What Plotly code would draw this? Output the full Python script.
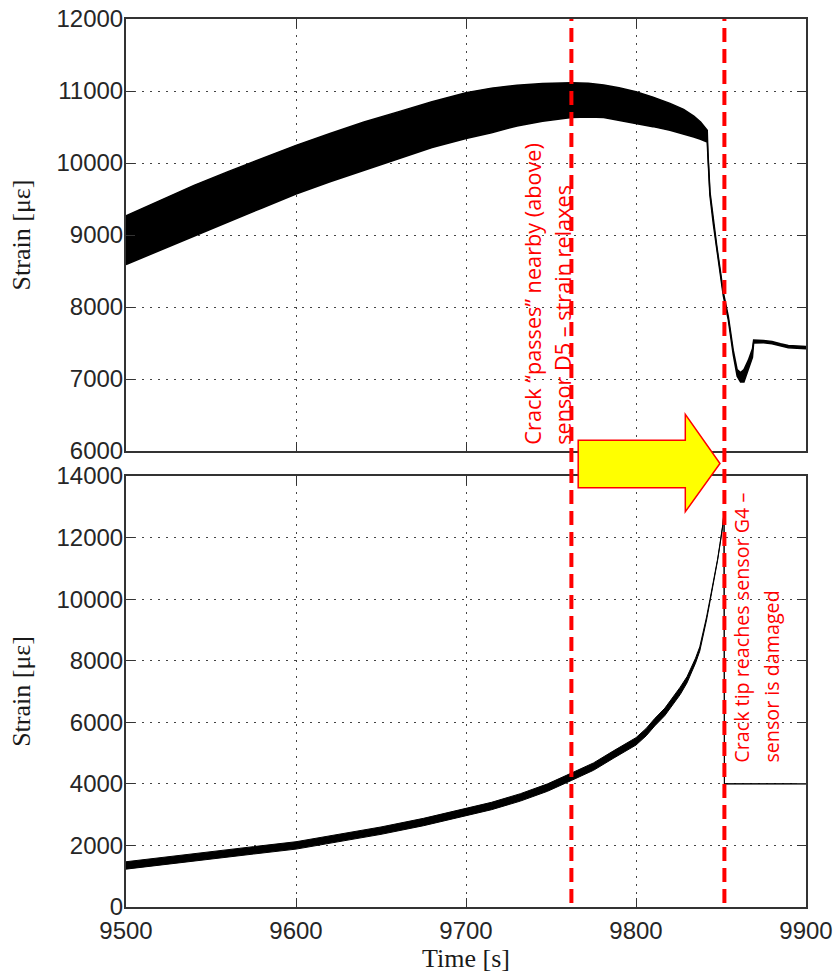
import plotly.graph_objects as go

# ---- Sensor D5 (upper panel): upper / lower envelope of the oscillating strain ----
t_top = [9500, 9520, 9540, 9560, 9580, 9600, 9620, 9640, 9660, 9680, 9700, 9715,
         9730, 9745, 9762, 9772, 9781, 9790, 9800, 9810, 9820, 9828, 9834, 9838,
         9841.9, 9842.3, 9843.5, 9845.5, 9847.5, 9849.5, 9851.4, 9854.3, 9857.2,
         9859.5, 9861.5, 9863.5, 9866.1, 9868.5, 9869.2, 9875, 9880, 9885, 9889.6, 9900]
top_upper = [9266, 9480, 9690, 9880, 10060, 10245, 10410, 10570, 10710, 10850, 10975, 11040,
             11080, 11105, 11116, 11108, 11084, 11045, 10990, 10915, 10828, 10745, 10650, 10570,
             10455, 10150, 9600, 9200, 8850, 8520, 8200, 7870, 7400,
             7130, 7090, 7130, 7262, 7420, 7540, 7535, 7520, 7490, 7465, 7450]
top_lower = [8590, 8790, 8985, 9180, 9375, 9570, 9740, 9900, 10060, 10215, 10340, 10420,
             10515, 10580, 10632, 10640, 10632, 10595, 10548, 10505, 10455, 10405, 10360, 10330,
             10291, 10100, 9550, 9150, 8800, 8470, 8150, 7820, 7340,
             7040, 6960, 6960, 7122, 7300, 7500, 7505, 7490, 7460, 7435, 7420]

# ---- Sensor G4 (lower panel): upper / lower envelope of the strain ----
t_bot = [9500, 9525, 9550, 9575, 9600, 9625, 9650, 9675, 9700, 9715, 9732, 9748, 9762,
         9775, 9787, 9800, 9806, 9811, 9817, 9822, 9826, 9830, 9833, 9835, 9837.5,
         9839.6, 9841.5, 9843.5, 9845, 9846.5, 9848, 9849.4, 9850.3, 9851, 9851.8, 9852, 9900]
bot_upper = [1470, 1640, 1800, 1960, 2120, 2350, 2600, 2880, 3190, 3400, 3680, 4000, 4350,
             4680, 5080, 5500, 5800, 6120, 6460, 6820, 7140, 7480, 7810, 8080, 8450,
             8930, 9420, 9990, 10400, 10850, 11300, 11800, 12120, 12400, 12860, 4000, 4000]
bot_lower = [1230, 1400, 1560, 1720, 1880, 2110, 2360, 2640, 2950, 3160, 3440, 3760, 4110,
             4440, 4840, 5260, 5560, 5880, 6220, 6580, 6900, 7280, 7630, 7920, 8310,
             8810, 9320, 9910, 10340, 10790, 11260, 11760, 12080, 12360, 12820, 4000, 4000]

# ---- axis ticks ----
time_ticks = [9500, 9600, 9700, 9800, 9900]
time_labels = ["9500", "9600", "9700", "9800", "9900"]
top_ticks = [6000, 7000, 8000, 9000, 10000, 11000, 12000]
top_labels = ["6000", "7000", "8000", "9000", "10000", "11000", "12000"]
bot_ticks = [0, 2000, 4000, 6000, 8000, 10000, 12000, 14000]
bot_labels = ["0", "2000", "4000", "6000", "8000", "10000", "12000", "14000"]

# ---- event markers (time of event, two text lines each) ----
event_times = [9762, 9852]
event_notes = [
    ("Crack \u201cpasses\u201d nearby (above)", "sensor D5 \u2013 strain relaxes"),
    ("Crack tip reaches sensor G4 \u2013", "sensor is damaged"),
]

fig = go.Figure()

top_line = dict(color="black", width=1.5)
bot_line = dict(color="black", width=1)
fig.add_trace(go.Scatter(x=t_top, y=top_upper, mode="lines", line=top_line,
                         xaxis="x", yaxis="y", showlegend=False, hoverinfo="skip"))
fig.add_trace(go.Scatter(x=t_top, y=top_lower, mode="lines", line=top_line,
                         fill="tonexty", fillcolor="black",
                         xaxis="x", yaxis="y", showlegend=False, hoverinfo="skip"))
fig.add_trace(go.Scatter(x=t_bot, y=bot_upper, mode="lines", line=bot_line,
                         xaxis="x2", yaxis="y2", showlegend=False, hoverinfo="skip"))
fig.add_trace(go.Scatter(x=t_bot, y=bot_lower, mode="lines", line=bot_line,
                         fill="tonexty", fillcolor="black",
                         xaxis="x2", yaxis="y2", showlegend=False, hoverinfo="skip"))

tick_font = dict(family="Liberation Sans, Arial, sans-serif", size=24, color="#262626")
title_font = dict(family="Liberation Serif, Times New Roman, serif", size=26, color="#1a1a1a")

common_axis = dict(
    showline=True, linecolor="#333333", linewidth=2, mirror="ticks",
    ticks="inside", ticklen=9, tickwidth=1, tickcolor="#333333",
    showgrid=True, gridcolor="#444444", gridwidth=1, griddash="2px,6px",
    zeroline=False, tickfont=tick_font, automargin=False, ticklabeloverflow="allow",
)

fig.update_layout(
    template="none",
    width=835, height=975,
    margin=dict(l=126, r=29, t=19, b=68),
    paper_bgcolor="white", plot_bgcolor="white",
    xaxis=dict(common_axis, domain=[0, 1], range=[9500, 9900], tickvals=time_ticks,
               ticktext=time_labels, showticklabels=False, anchor="y"),
    yaxis=dict(common_axis, domain=[0.5135, 1], range=[6000, 12000], tickvals=top_ticks,
               ticktext=top_labels, anchor="x", ticklabelstandoff=-4,
               title=dict(text="Strain [\u03bc\u03b5]", font=title_font, standoff=18)),
    xaxis2=dict(common_axis, domain=[0, 1], range=[9500, 9900], tickvals=time_ticks,
                ticktext=time_labels, anchor="y2", ticklabelstandoff=1,
                title=dict(text="Time [s]", font=title_font, standoff=5)),
    yaxis2=dict(common_axis, domain=[0, 0.4854], range=[0, 14000], tickvals=bot_ticks,
                ticktext=bot_labels, anchor="x2", ticklabelstandoff=-4,
                title=dict(text="Strain [\u03bc\u03b5]", font=title_font, standoff=18)),
)

# dashed red event lines spanning both panels
for t in event_times:
    fig.add_shape(type="line", xref="x", yref="paper", x0=t, x1=t, y0=0.0045, y1=1.0,
                  line=dict(color="#ff0000", width=4, dash="14px,7px"), layer="above")

# yellow block arrow from the first event to the second
ax0, ax1, ax2 = 9766, 9829, 9849.4
yb0, yb1 = 0.4722, 0.5255
yh0, yh1, ytip = 0.4451, 0.5548, 0.4995
arrow_path = (f"M {ax0},{yb1} L {ax1},{yb1} L {ax1},{yh1} L {ax2},{ytip} "
              f"L {ax1},{yh0} L {ax1},{yb0} L {ax0},{yb0} Z")
fig.add_shape(type="path", xref="x", yref="paper", path=arrow_path,
              fillcolor="#ffff00", line=dict(color="#ff0000", width=1.5), layer="above")

# rotated red notes, one annotation per text line, lines start at the bottom
note_specs = [
    (event_notes[0], (9738.6, 9756.3), 0.518, 21.7),
    (event_notes[1], (9862.2, 9879.8), 0.16, 19.7),
]
for lines, xs, ybot, size in note_specs:
    for text, xc in zip(lines, xs):
        fig.add_annotation(x=xc, xref="x", y=ybot, yref="paper", text=text,
                           textangle=-90, xanchor="center", yanchor="bottom",
                           showarrow=False,
                           font=dict(family="Open Sans, sans-serif", size=size, color="#ff0000"))

fig.write_html("out.html")
